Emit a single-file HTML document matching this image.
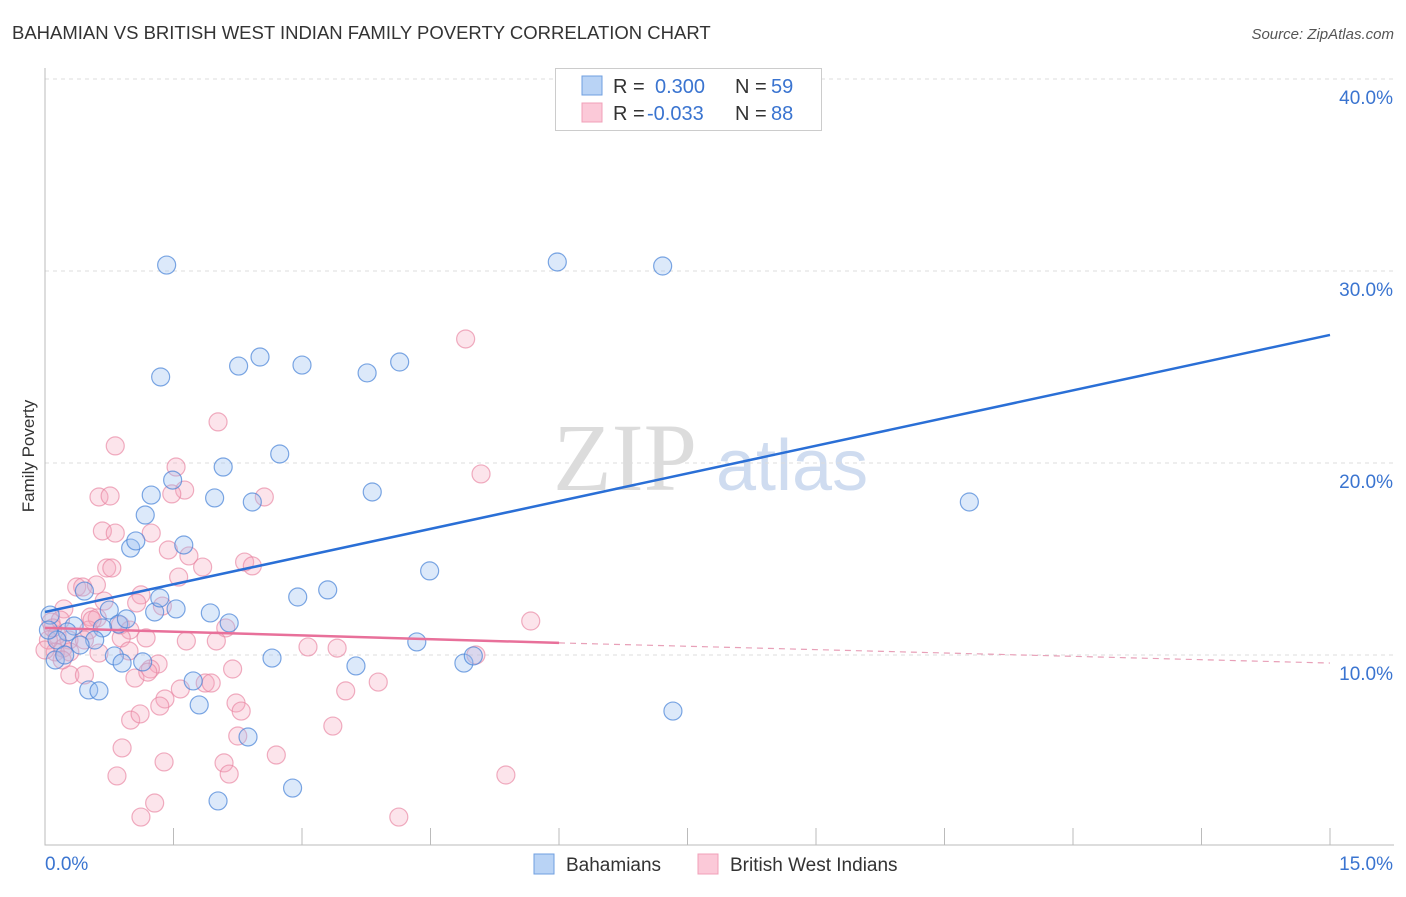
<!DOCTYPE html>
<html><head><meta charset="utf-8"><style>
body{margin:0;background:#fff;font-family:"Liberation Sans",sans-serif}
</style></head><body>
<svg id="chart" width="1406" height="892" xmlns="http://www.w3.org/2000/svg">
<text x="12" y="39" font-size="18.5" fill="#333">BAHAMIAN VS BRITISH WEST INDIAN FAMILY POVERTY CORRELATION CHART</text>
<text x="1394" y="39" font-size="15" fill="#555" font-style="italic" text-anchor="end">Source: ZipAtlas.com</text>
<text x="34" y="456" font-size="17" fill="#333" text-anchor="middle" transform="rotate(-90 34 456)">Family Poverty</text>
<g>
<text x="553" y="490" font-family="Liberation Serif,serif" font-size="96" fill="#dcdcdc">ZIP</text>
<text x="716" y="490" font-size="72" fill="#cfdcf0">atlas</text>
</g>
<g id="grid"></g><g id="axes"></g><g id="marks"></g>
<g>
<rect x="555.5" y="68.5" width="266" height="62" fill="#fff" stroke="#ccc"/>
<rect x="582" y="76" width="20" height="19" fill="#b9d3f5" stroke="#6f9fe0"/>
<rect x="582" y="103" width="20" height="19" fill="#fbc9d8" stroke="#f0a0b8"/>
<g font-size="20">
<text x="613" y="93" fill="#333">R =</text><text x="655" y="93" fill="#3a74d0">0.300</text>
<text x="735" y="93" fill="#333">N =</text><text x="771" y="93" fill="#3a74d0">59</text>
<text x="613" y="120" fill="#333">R =</text><text x="647" y="120" fill="#3a74d0">-0.033</text>
<text x="735" y="120" fill="#333">N =</text><text x="771" y="120" fill="#3a74d0">88</text>
</g></g>
<g>
<rect x="534" y="854" width="20" height="20" fill="#b9d3f5" stroke="#6f9fe0"/>
<text x="566" y="871" font-size="19" fill="#333">Bahamians</text>
<rect x="698" y="854" width="20" height="20" fill="#fbc9d8" stroke="#f0a0b8"/>
<text x="730" y="871" font-size="19" fill="#333">British West Indians</text>
</g>
</svg>
<script>
const yTicks=[10,20,30,40];
const yTickLabels=["10.0%","20.0%","30.0%","40.0%"];
const xTicks=[0,1.5,3,4.5,6,7.5,9,10.5,12,13.5,15];
const xEndLabels=["0.0%","15.0%"];
const blueX=[1.42,5.98,7.21,1.35,2.26,2.51,3.0,3.76,4.14,2.08,2.74,1.98,2.42,3.82,10.79,1.24,1.17,1.0,1.06,1.62,1.49,4.49,2.95,3.3,0.75,1.28,1.53,1.93,2.15,0.86,0.95,0.46,0.34,0.67,0.58,0.41,0.26,0.14,0.06,0.12,0.23,4.34,3.63,4.89,5.0,2.65,0.81,0.9,1.14,0.51,0.63,1.73,1.8,7.33,2.37,2.02,2.89,1.34,0.04];
const blueY=[30.31,30.47,30.26,24.48,25.05,25.52,25.1,24.69,25.26,19.79,20.47,18.18,17.97,18.49,17.97,18.33,17.29,15.57,15.94,15.73,19.11,14.38,13.02,13.39,12.34,12.24,12.4,12.19,11.67,11.61,11.88,13.33,11.51,11.41,10.78,10.52,11.2,10.78,12.08,9.74,10.0,10.68,9.43,9.58,9.95,9.84,9.95,9.58,9.64,8.18,8.13,8.65,7.4,7.08,5.73,2.4,3.07,12.97,11.3];
const pinkX=[4.91,2.02,0.82,5.09,1.53,0.63,0.76,1.63,1.48,2.56,0.67,0.82,1.24,1.44,1.68,1.84,0.72,0.78,2.33,2.42,1.56,0.37,0.44,0.6,1.12,0.69,1.07,1.37,0.22,0.53,0.61,0.88,0.51,0.99,2.11,0.07,0.14,0.28,0.46,0.21,0.12,0.89,1.18,1.65,2.0,3.07,3.41,5.67,0.98,0.63,1.32,1.23,2.19,5.03,0.29,0.46,1.05,1.2,1.58,1.87,1.94,1.4,1.34,2.23,2.29,3.51,3.89,1.0,1.11,3.36,2.25,2.7,0.9,1.39,2.09,2.15,0.84,5.38,1.28,1.12,4.13,0.18,0.04,0.09,0.29,0.2,0.55,0.0];
const pinkY=[26.46,22.14,20.89,19.43,19.79,18.23,18.28,18.59,18.39,18.23,16.46,16.35,16.35,15.47,15.16,14.58,14.53,14.53,14.84,14.64,14.06,13.54,13.54,13.65,13.13,12.81,12.71,12.55,12.4,11.98,11.93,11.56,11.3,11.3,11.41,11.72,11.04,10.78,10.78,10.36,10.16,10.89,10.89,10.73,10.73,10.42,10.36,11.77,10.21,10.1,9.53,9.27,9.27,10.0,8.96,8.96,8.8,9.11,8.23,8.54,8.54,7.71,7.34,7.5,7.08,8.13,8.59,6.61,6.93,6.3,5.78,4.79,5.16,4.43,4.38,3.8,3.7,3.75,2.29,1.56,1.56,11.82,10.78,11.41,10.16,9.74,11.82,10.26];
const blueTrend=[12.24,26.67];
const pinkTrend=[11.41,10.63,9.58];
const pinkSolidEnd=6.0;

const NS="http://www.w3.org/2000/svg";
const X=v=>45+v*1285/15;
const Y=v=>847-v*19.2;
function mk(tag,attrs,parent){const e=document.createElementNS(NS,tag);for(const k in attrs)e.setAttribute(k,attrs[k]);parent.appendChild(e);return e;}
const grid=document.getElementById('grid'),axes=document.getElementById('axes'),marks=document.getElementById('marks');
yTicks.forEach((t,i)=>{
 const l=mk('line',{x1:45,x2:1394,y1:Y(t),y2:Y(t),stroke:'#ddd','stroke-dasharray':'4 4'},grid);
 
 
 const tx=mk('text',{x:1393,y:Y(t)+25,'font-size':19,fill:'#3a74d0','text-anchor':'end'},axes);
 tx.textContent=yTickLabels[i];
 
 
});
const ax=mk('path',{d:'M45 68V845H1394',fill:'none',stroke:'#bbb'},axes);


xTicks.forEach(t=>{
 const l=mk('line',{x1:X(t),x2:X(t),y1:828,y2:845,stroke:'#bbb'},axes);
 
 
});
const xl0=mk('text',{x:45,y:870,'font-size':19,fill:'#3a74d0'},axes);xl0.textContent=xEndLabels[0];


const xl1=mk('text',{x:1393,y:870,'font-size':19,fill:'#3a74d0','text-anchor':'end'},axes);xl1.textContent=xEndLabels[1];


pinkX.forEach((x,i)=>{
 const c=mk('circle',{cx:X(x),cy:Y(pinkY[i]),r:9,fill:'rgba(245,165,190,0.3)',stroke:'rgba(232,130,160,0.65)','stroke-width':1.2},marks);
 
 
});
blueX.forEach((x,i)=>{
 const c=mk('circle',{cx:X(x),cy:Y(blueY[i]),r:9,fill:'rgba(155,192,240,0.35)',stroke:'rgba(70,130,215,0.7)','stroke-width':1.2},marks);
 
 
});
const bt=mk('line',{x1:X(0),y1:Y(blueTrend[0]),x2:X(15),y2:Y(blueTrend[1]),stroke:'#2a6fd6','stroke-width':2.5},marks);


const pt=mk('line',{x1:X(0),y1:Y(pinkTrend[0]),x2:X(pinkSolidEnd),y2:Y(pinkTrend[1]),stroke:'#e8709a','stroke-width':2.5},marks);


const pd=mk('line',{x1:X(pinkSolidEnd),y1:Y(pinkTrend[1]),x2:X(15),y2:Y(pinkTrend[2]),stroke:'#e8a0b8','stroke-width':1.2,'stroke-dasharray':'6 5'},marks);


</script>
</body></html>
